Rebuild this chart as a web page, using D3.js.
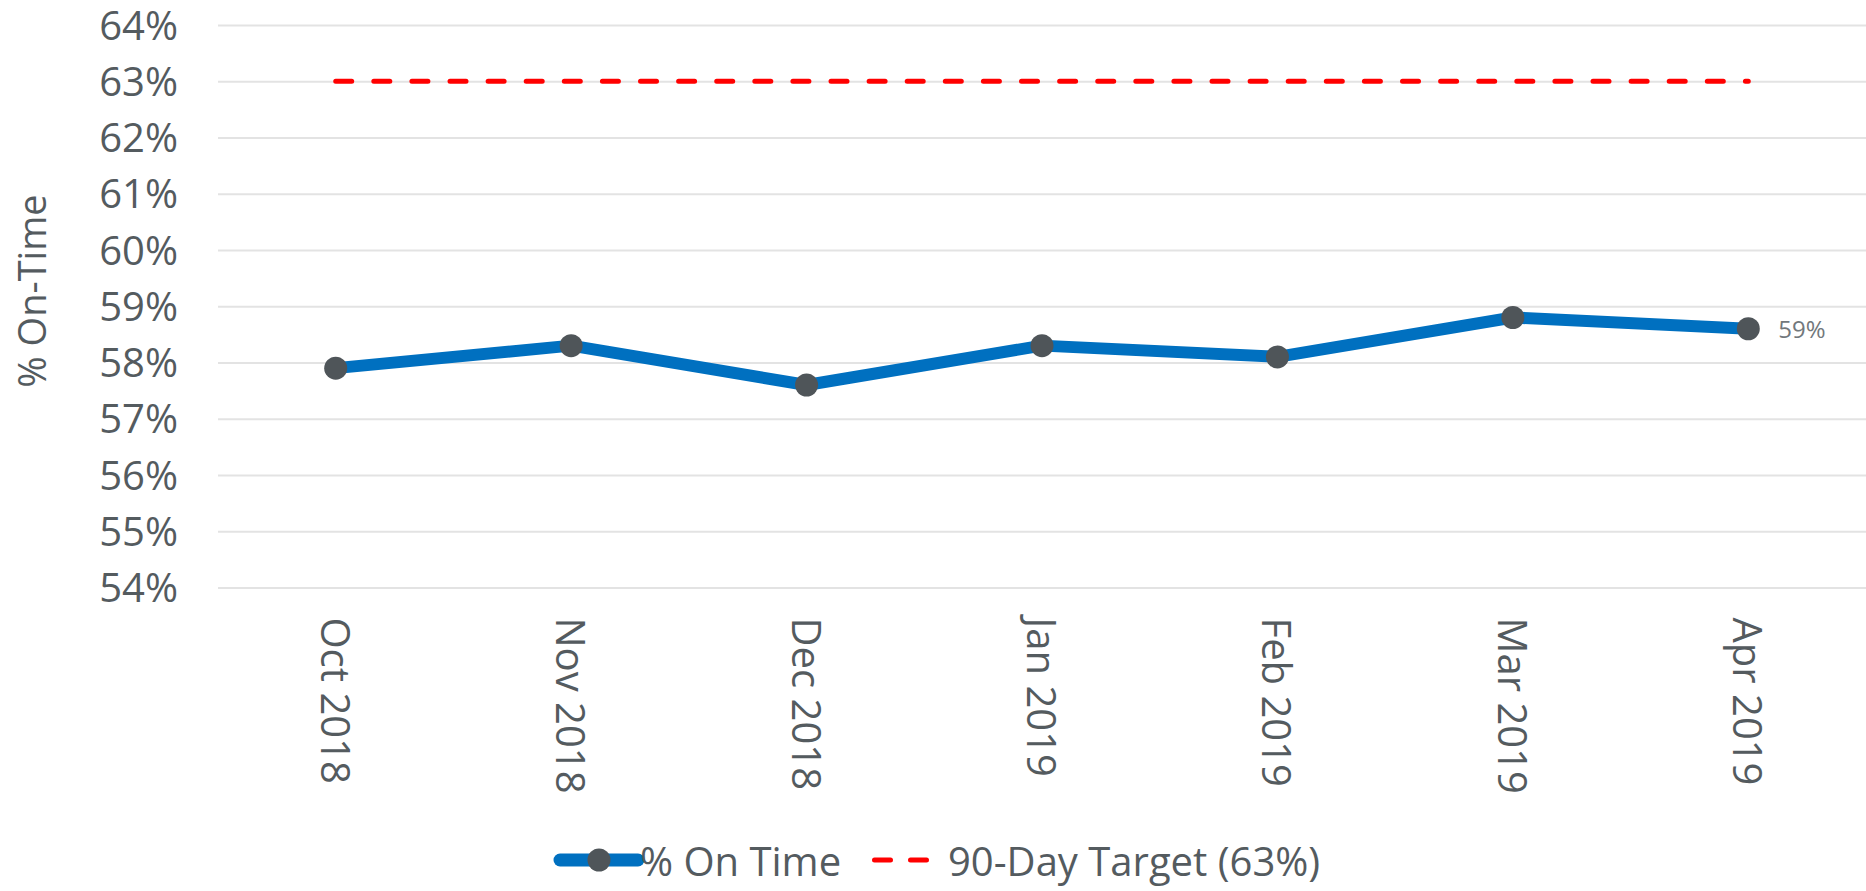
<!DOCTYPE html>
<html>
<head>
<meta charset="utf-8">
<script src="https://cdn.jsdelivr.net/npm/d3@7"></script>
<style>
  html, body { margin: 0; padding: 0; background: #fff; }
  svg { display: block; font-family: "Open Sans", "Noto Sans", sans-serif; }
</style>
</head>
<body>
<div class="chart"></div>
<script>
const months = ["Oct 2018", "Nov 2018", "Dec 2018", "Jan 2019", "Feb 2019", "Mar 2019", "Apr 2019"];
const onTime = [0.579, 0.583, 0.576, 0.583, 0.581, 0.588, 0.586];
const target = [0.63, 0.63, 0.63, 0.63, 0.63, 0.63, 0.63];
const yTicks = [0.54, 0.55, 0.56, 0.57, 0.58, 0.59, 0.60, 0.61, 0.62, 0.63, 0.64];
const seriesNames = ["% On Time", "90-Day Target (63%)"];

const width = 1866;
const height = 891;
const plot = { left: 218, right: 1866, top: 25, bottom: 587.5 };

const fontName = '"Open Sans", "Noto Sans", sans-serif';
const textColor = "#545b5f";
const blue = "#0070c0";
const markerColor = "#4f5559";
const red = "#ff0000";

const svg = d3.select(".chart")
  .append("svg")
  .attr("width", width)
  .attr("height", height);

const x = d3.scalePoint()
  .domain(months)
  .range([plot.left, plot.right])
  .padding(0.5);

const y = d3.scaleLinear()
  .domain([0.54, 0.64])
  .range([plot.bottom, plot.top]);

// y axis + gridlines
const yAxis = svg.append("g")
  .attr("transform", `translate(${plot.left},0)`)
  .call(d3.axisLeft(y)
    .tickValues(yTicks)
    .tickFormat(d3.format(".0%"))
    .tickSize(-(plot.right - plot.left))
    .tickPadding(40))
  .attr("font-family", fontName);
yAxis.select(".domain").remove();
yAxis.selectAll(".tick line")
  .attr("stroke", "#e3e3e3")
  .attr("stroke-width", 2);
yAxis.selectAll(".tick text")
  .attr("fill", textColor)
  .attr("font-size", 40)
  .attr("dy", "0.35em");

// x axis labels, rotated
const xAxis = svg.append("g")
  .attr("transform", `translate(0,${plot.bottom})`)
  .call(d3.axisBottom(x).tickSize(0).tickPadding(0))
  .attr("font-family", fontName);
xAxis.select(".domain").remove();
xAxis.selectAll(".tick text")
  .attr("fill", textColor)
  .attr("font-size", 40)
  .attr("text-anchor", "start")
  .attr("dominant-baseline", "central")
  .attr("dy", null)
  .attr("y", 0)
  .attr("transform", "translate(0,30) rotate(90)");

// y title
svg.append("text")
  .attr("transform", "translate(31,291) rotate(-90)")
  .attr("text-anchor", "middle")
  .attr("dominant-baseline", "central")
  .attr("fill", textColor)
  .attr("font-size", 38)
  .text("% On-Time");

// target line
const line = d3.line()
  .x((d, i) => x(months[i]))
  .y(d => y(d));

svg.append("path")
  .datum(target)
  .attr("d", line)
  .attr("fill", "none")
  .attr("stroke", red)
  .attr("stroke-width", 5)
  .attr("stroke-linecap", "round")
  .attr("stroke-dasharray", "16 22.1");

// on time line
svg.append("path")
  .datum(onTime)
  .attr("d", line)
  .attr("fill", "none")
  .attr("stroke", blue)
  .attr("stroke-width", 12)
  .attr("stroke-linejoin", "round");

svg.selectAll("circle.pt")
  .data(onTime)
  .enter()
  .append("circle")
  .attr("class", "pt")
  .attr("cx", (d, i) => x(months[i]))
  .attr("cy", d => y(d))
  .attr("r", 11.5)
  .attr("fill", markerColor);

// label on last point
const last = onTime.length - 1;
svg.append("text")
  .attr("x", x(months[last]) + 30)
  .attr("y", y(onTime[last]))
  .attr("dominant-baseline", "central")
  .attr("fill", "#72787c")
  .attr("font-size", 24)
  .text(d3.format(".0%")(onTime[last]));

// legend
const legY = 860;
const leg = svg.append("g");
leg.append("line")
  .attr("x1", 560).attr("x2", 638)
  .attr("y1", legY).attr("y2", legY)
  .attr("stroke", blue)
  .attr("stroke-width", 13)
  .attr("stroke-linecap", "round");
leg.append("circle")
  .attr("cx", 599).attr("cy", legY)
  .attr("r", 11.5)
  .attr("fill", markerColor);
leg.append("text")
  .attr("x", 640).attr("y", legY)
  .attr("dominant-baseline", "central")
  .attr("fill", textColor)
  .attr("font-size", 40)
  .text(seriesNames[0]);
leg.append("line")
  .attr("x1", 874.5).attr("x2", 927)
  .attr("y1", legY).attr("y2", legY)
  .attr("stroke", red)
  .attr("stroke-width", 5)
  .attr("stroke-linecap", "round")
  .attr("stroke-dasharray", "16 20");
leg.append("text")
  .attr("x", 948).attr("y", legY)
  .attr("dominant-baseline", "central")
  .attr("fill", textColor)
  .attr("font-size", 40)
  .text(seriesNames[1]);
</script>
</body>
</html>
